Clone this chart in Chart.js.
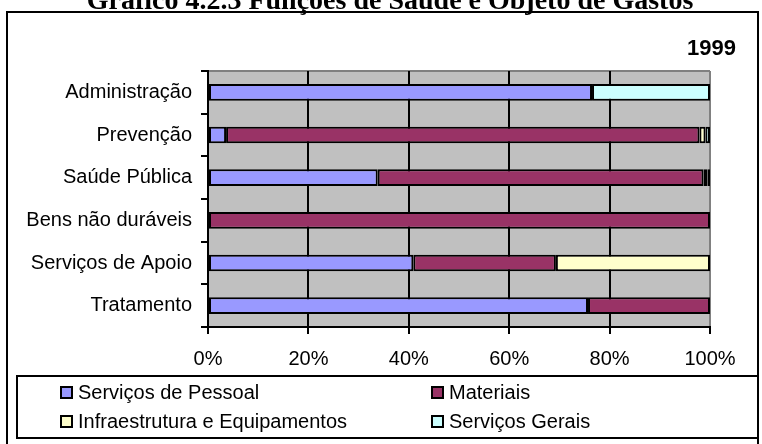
<!DOCTYPE html>
<html>
<head>
<meta charset="utf-8">
<script src="https://cdn.jsdelivr.net/npm/chart.js@4.4.1/dist/chart.umd.min.js"></script>
<style>
html, body { margin: 0; padding: 0; background: #fff; }
#wrap { width: 762px; height: 444px; position: relative; }
</style>
</head>
<body>
<div id="wrap"><canvas id="myChart" width="762" height="444"></canvas></div>
<script>
// dados do gráfico (percentual por função)
const categorias = ['Administração', 'Prevenção', 'Saúde Pública', 'Bens não duráveis', 'Serviços de Apoio', 'Tratamento'];
const servicosPessoal = [76.5, 3.6, 33.8, null, 40.9, 75.7];
const materiais = [null, 94.3, 64.9, 100, 28.4, 24.3];
const infraestrutura = [null, 1.2, 0.8, null, 30.7, null];
const servicosGerais = [23.5, 0.9, 0.5, null, null, null];
const ticksX = [0, 20, 40, 60, 80, 100];

const titulo = 'Gráfico 4.2.3 Funções de Saúde e Objeto de Gastos';
const ano = '1999';

const fonte = 'Liberation Sans, Arial, sans-serif';

const fundoPlot = {
    id: 'fundoPlot',
    beforeDraw(chart) {
        const { ctx, chartArea: a } = chart;
        ctx.save();
        ctx.fillStyle = '#fff';
        ctx.fillRect(0, 0, chart.width, chart.height);
        ctx.fillStyle = '#C0C0C0';
        ctx.fillRect(a.left, a.top, a.right - a.left, a.bottom - a.top);
        ctx.strokeStyle = '#808080';
        ctx.lineWidth = 2;
        ctx.beginPath();
        ctx.moveTo(a.left, a.top);
        ctx.lineTo(a.right, a.top);
        ctx.stroke();
        ctx.restore();
    }
};

const moldura = {
    id: 'moldura',
    afterDraw(chart) {
        const ctx = chart.ctx;
        ctx.save();
        // titulo cortado no topo
        ctx.fillStyle = '#000';
        ctx.font = 'bold 28px "Liberation Serif", "Times New Roman", serif';
        ctx.textAlign = 'center';
        ctx.textBaseline = 'alphabetic';
        ctx.fillText(titulo, 390, 9);

        // borda externa
        ctx.strokeStyle = '#000';
        ctx.lineWidth = 2;
        ctx.strokeRect(7, 12, 751, 440);

        // ano
        ctx.font = 'bold 22px ' + fonte;
        ctx.textAlign = 'right';
        ctx.fillText(ano, 736, 55);

        // legenda
        ctx.strokeRect(17, 376, 741, 62);
        const colX = [61, 432];
        const rowY = [392, 421];
        ctx.font = '20px ' + fonte;
        ctx.textAlign = 'left';
        ctx.textBaseline = 'middle';
        chart.data.datasets.forEach((ds, i) => {
            const x = colX[i % 2];
            const y = rowY[Math.floor(i / 2)];
            ctx.fillStyle = ds.backgroundColor;
            ctx.fillRect(x, y - 5, 11, 11);
            ctx.strokeRect(x, y - 5, 11, 11);
            ctx.fillStyle = '#000';
            ctx.fillText(ds.label, x + 17, y + 1);
        });
        ctx.restore();
    }
};

const ctx = document.getElementById('myChart').getContext('2d');

new Chart(ctx, {
    type: 'bar',
    data: {
        labels: categorias,
        datasets: [
            { label: 'Serviços de Pessoal', data: servicosPessoal, backgroundColor: '#9999FF' },
            { label: 'Materiais', data: materiais, backgroundColor: '#993366' },
            { label: 'Infraestrutura e Equipamentos', data: infraestrutura, backgroundColor: '#FFFFCC' },
            { label: 'Serviços Gerais', data: servicosGerais, backgroundColor: '#CCFFFF' }
        ]
    },
    options: {
        indexAxis: 'y',
        responsive: false,
        animation: false,
        datasets: {
            bar: {
                borderColor: '#000',
                borderWidth: 2,
                borderSkipped: false,
                categoryPercentage: 1,
                barPercentage: 0.39
            }
        },
        layout: { padding: { left: 0, top: 71, right: 52, bottom: 57 } },
        plugins: {
            legend: { display: false },
            tooltip: { enabled: false }
        },
        scales: {
            x: {
                stacked: true,
                min: 0,
                max: 100,
                afterBuildTicks: s => { s.ticks = ticksX.map(v => ({ value: v })); },
                afterFit: s => { s.height = 60; },
                grid: {
                    color: c => (c.tick && c.tick.value === 100) ? '#808080' : '#000',
                    lineWidth: 2,
                    tickLength: 7,
                    tickColor: '#000'
                },
                border: { color: '#000', width: 2 },
                ticks: {
                    callback: v => v + '%',
                    color: '#000',
                    font: { family: fonte, size: 20 },
                    padding: 13,
                    maxRotation: 0
                }
            },
            y: {
                stacked: true,
                afterFit: s => { s.width = 208; },
                grid: {
                    drawOnChartArea: false,
                    offset: true,
                    tickLength: 7,
                    color: '#000',
                    lineWidth: 2
                },
                border: { color: '#000', width: 2 },
                ticks: {
                    color: '#000',
                    font: { family: fonte, size: 20 },
                    padding: 9
                }
            }
        }
    },
    plugins: [fundoPlot, moldura]
});
</script>
</body>
</html>
